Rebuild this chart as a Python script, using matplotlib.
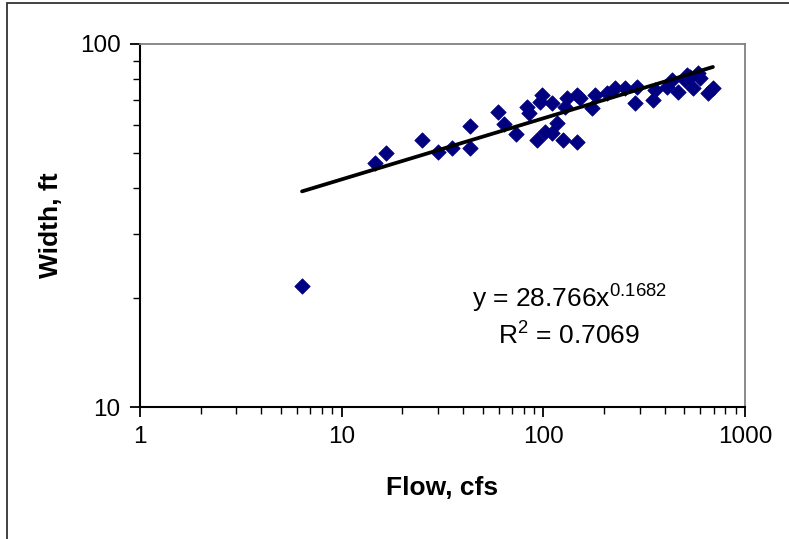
import numpy as np
import matplotlib
matplotlib.use('Agg')
import matplotlib.pyplot as plt
from matplotlib.patches import Rectangle
from matplotlib.ticker import LogLocator, NullFormatter, FixedLocator, FixedFormatter

plt.rcParams['font.family'] = ['Liberation Sans', 'DejaVu Sans']
plt.rcParams['mathtext.fontset'] = 'custom'
plt.rcParams['mathtext.rm'] = 'Liberation Sans'

# flow (cfs) and width (ft)
flow = [6.36, 14.6, 16.6, 25.0, 30.0, 35.2, 43.3, 43.3, 59.6, 63.8,
        73.1, 82.9, 84.8, 96.2, 98.4, 110.3, 116.8, 101.8, 93.0, 110.3,
        125.1, 146.7, 130.9, 128.0, 146.7, 151.9, 174.2, 180.3, 206.7, 226.5,
        253.8, 291.1, 284.5, 349.4, 410.1, 434.2, 464.9, 503.6, 533.2, 551.7,
        597.6, 584.1, 654.9, 693.3, 357.5, 515.0]
width = [21.5, 47.0, 50.1, 54.4, 50.4, 51.7, 59.5, 51.7, 65.0, 60.2,
         56.5, 67.1, 64.5, 69.2, 72.4, 68.8, 60.6, 57.2, 54.4, 56.9,
         54.4, 53.7, 71.0, 67.1, 72.4, 71.0, 66.6, 72.4, 73.3, 75.6,
         75.6, 76.1, 68.8, 70.1, 76.1, 79.6, 73.8, 79.6, 81.1, 75.6,
         80.6, 83.2, 73.3, 75.6, 74.7, 82.1]

# power trendline shown on the chart
coef = 28.766
expo = 0.1682
r2 = 0.7069

x_ticks = [1, 10, 100, 1000]
y_ticks = [10, 100]

fig = plt.figure(figsize=(7.89, 5.39), dpi=100)
ax = fig.add_axes([140 / 789, 1 - 407 / 539, 605 / 789, 363 / 539])

ax.scatter(flow, width, marker='D', s=62, color='#000080',
           edgecolors='#000080', linewidths=0.5, zorder=3)

xfit = np.logspace(np.log10(min(flow)), np.log10(max(flow)), 100)
ax.plot(xfit, coef * xfit ** expo, color='black', lw=2.7, zorder=4,
        solid_capstyle='round')

ax.set_xscale('log')
ax.set_yscale('log')
ax.set_xlim(1, 1000)
ax.set_ylim(10, 100)

ax.xaxis.set_major_locator(FixedLocator(x_ticks))
ax.xaxis.set_major_formatter(FixedFormatter([str(t) for t in x_ticks]))
ax.yaxis.set_major_locator(FixedLocator(y_ticks))
ax.yaxis.set_major_formatter(FixedFormatter([str(t) for t in y_ticks]))
ax.xaxis.set_minor_locator(LogLocator(base=10, subs=np.arange(2, 10)))
ax.yaxis.set_minor_locator(LogLocator(base=10, subs=np.arange(2, 10)))
ax.xaxis.set_minor_formatter(NullFormatter())
ax.yaxis.set_minor_formatter(NullFormatter())

ax.tick_params(which='major', direction='out', length=7, width=1.3,
               labelsize=17.5, pad=7, colors='black')
ax.tick_params(which='minor', direction='out', length=5, width=1.0)

for side in ['left', 'bottom']:
    ax.spines[side].set_color('black')
    ax.spines[side].set_linewidth(1.5)
for side in ['top', 'right']:
    ax.spines[side].set_color('#808080')
    ax.spines[side].set_linewidth(1.3)

ax.set_xlabel('Flow, cfs', fontsize=19, fontweight='bold', labelpad=20)
ax.set_ylabel('Width, ft', fontsize=19, fontweight='bold', labelpad=12)

ax.text(569 / 789, 1 - 298 / 539, 'y = %.3fx$^{%.4f}$' % (coef, expo),
        transform=fig.transFigure, fontsize=19, ha='center', va='center')
ax.text(569 / 789, 1 - 335 / 539, 'R$^2$ = %.4f' % r2,
        transform=fig.transFigure, fontsize=19, ha='center', va='center')

# outer chart border, cut off at right and bottom
fig.patches.append(Rectangle((6.5 / 789, -0.2), 1.2, 1 - 3.5 / 539 + 0.2,
                             transform=fig.transFigure, fill=False,
                             edgecolor='#333333', lw=1.3))

fig.savefig('out.png', dpi=100)
